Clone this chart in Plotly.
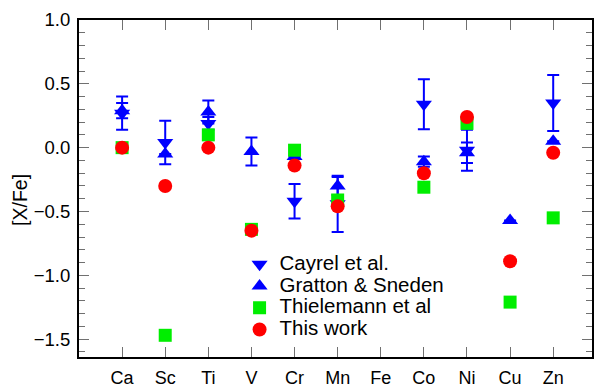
import plotly.graph_objects as go

elements = ["Ca", "Sc", "Ti", "V", "Cr", "Mn", "Fe", "Co", "Ni", "Cu", "Zn"]

cayrel = [0.27, 0.04, 0.19, None, -0.42, -0.44, None, 0.34, -0.02, None, 0.35]
cayrel_err = [0.13, 0.17, 0.05, None, 0.135, 0.22, None, 0.195, 0.16, None, 0.22]

gratton = [0.29, -0.05, 0.28, -0.03, -0.07, -0.30, None, -0.11, -0.04, -0.57, 0.05]
gratton_err = [0.06, 0.0, 0.09, 0.11, 0.0, 0.07, None, 0.04, 0.08, 0.0, 0.0]

thielemann = [0.0, -1.47, 0.10, -0.64, -0.02, -0.41, None, -0.31, 0.19, -1.21, -0.55]
this_work = [0.0, -0.30, 0.0, -0.65, -0.14, -0.46, None, -0.20, 0.24, -0.89, -0.04]

names = ["Cayrel et al.", "Gratton &amp; Sneden", "Thielemann et al", "This work"]


def lbl(s):
    return "<span style='font-size:20.5px'>" + s + "</span>"


BLUE = "#0000ff"
fig = go.Figure()
fig.add_trace(go.Scatter(
    x=elements, y=cayrel, mode="markers", name=lbl(names[0]),
    marker=dict(symbol="triangle-down", size=14, color=BLUE),
    error_y=dict(type="data", array=cayrel_err, color=BLUE, thickness=2, width=6, visible=True),
))
fig.add_trace(go.Scatter(
    x=elements, y=gratton, mode="markers", name=lbl(names[1]),
    marker=dict(symbol="triangle-up", size=14, color=BLUE),
    error_y=dict(type="data", array=gratton_err, color=BLUE, thickness=2, width=6, visible=True),
))
fig.add_trace(go.Scatter(
    x=elements, y=thielemann, mode="markers", name=lbl(names[2]),
    marker=dict(symbol="square", size=13, color="#00ee00"),
))
fig.add_trace(go.Scatter(
    x=elements, y=this_work, mode="markers", name=lbl(names[3]),
    marker=dict(symbol="circle", size=14, color="#ff0000"),
))

font = "Liberation Sans, Arial, sans-serif"
fig.update_layout(
    width=595, height=388,
    margin=dict(l=79, r=3, t=20, b=31),
    paper_bgcolor="white", plot_bgcolor="white",
    font=dict(family=font, size=18, color="black"),
    showlegend=True,
    legend=dict(x=0.313, y=0.322, xanchor="left", yanchor="top",
                font=dict(size=14.4, color="black"), bgcolor="rgba(0,0,0,0)",
                tracegroupgap=0, itemsizing="trace"),
    xaxis=dict(
        type="category", categoryorder="array", categoryarray=elements,
        range=[-1, 10.9], showgrid=False, zeroline=False, automargin=False,
        showline=True, linecolor="black", linewidth=2, mirror="ticks",
        ticks="inside", ticklen=10, tickcolor="#707070", tickwidth=1,
        tickfont=dict(size=18, color="black"), ticklabelstandoff=3,
    ),
    yaxis=dict(
        range=[-1.64, 1.0], showgrid=False, zeroline=False, automargin=False,
        showline=True, linecolor="black", linewidth=2, mirror="ticks",
        ticks="inside", ticklen=10, tickcolor="#707070", tickwidth=1,
        dtick=0.5, tick0=0, tickformat=".1f",
        minor=dict(ticks="inside", ticklen=6, dtick=0.1, tickcolor="#707070", showgrid=False),
        tickfont=dict(size=18.5, color="black"), ticklabelstandoff=3,
    ),
    annotations=[dict(
        text="[X/Fe]", xref="paper", yref="paper",
        x=(20 - 79) / 512.7, y=(357 - 200) / 337,
        xanchor="center", yanchor="middle", textangle=-90, showarrow=False,
        font=dict(size=19.5, color="black"),
    )],
)

fig.write_html("out.html", config={"displayModeBar": False},
               post_script="document.body.style.margin='0';document.body.style.overflow='hidden';")
